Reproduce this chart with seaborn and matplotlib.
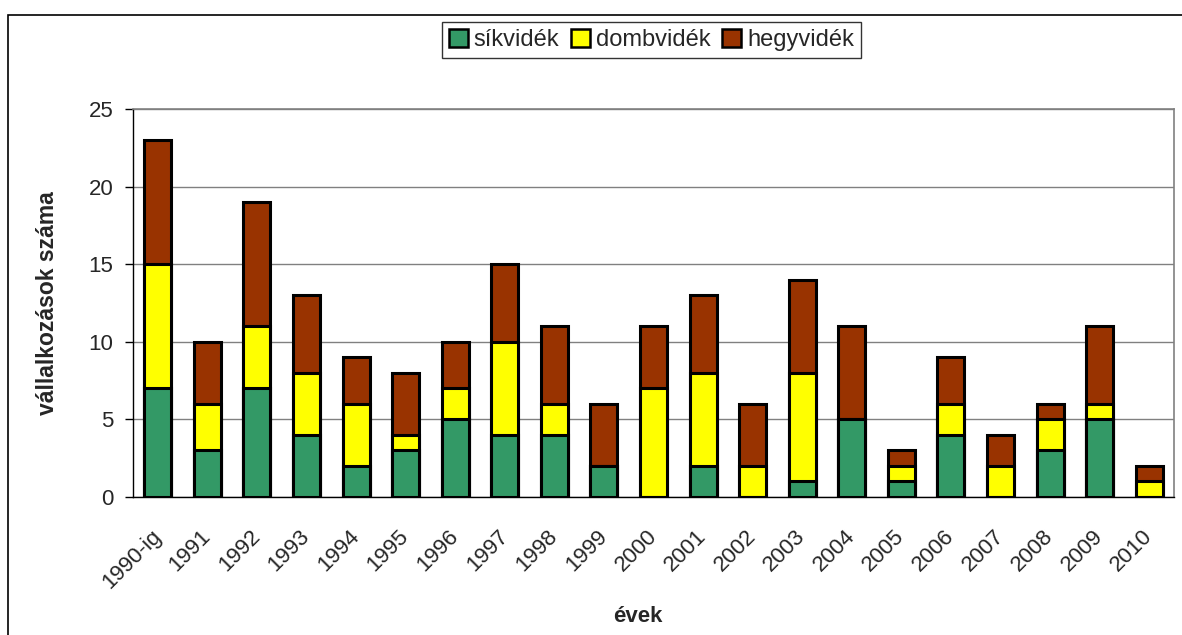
import numpy as np
import pandas as pd
import matplotlib
matplotlib.use("Agg")
import matplotlib.pyplot as plt
import matplotlib.transforms as mtransforms
import seaborn as sns
from matplotlib.patches import Patch, Rectangle

years = ["1990-ig", "1991", "1992", "1993", "1994", "1995", "1996", "1997",
         "1998", "1999", "2000", "2001", "2002", "2003", "2004", "2005",
         "2006", "2007", "2008", "2009", "2010"]
sikvidek = [7, 3, 7, 4, 2, 3, 5, 4, 4, 2, 0, 2, 0, 1, 5, 1, 4, 0, 3, 5, 0]
dombvidek = [8, 3, 4, 4, 4, 1, 2, 6, 2, 0, 7, 6, 2, 7, 0, 1, 2, 2, 2, 1, 1]
hegyvidek = [8, 4, 8, 5, 3, 4, 3, 5, 5, 4, 4, 5, 4, 6, 6, 1, 3, 2, 1, 5, 1]

series_names = ["síkvidék", "dombvidék", "hegyvidék"]
colors = ["#339966", "#FFFF00", "#993300"]

sns.set_style("white")
plt.rcParams["font.family"] = ["Liberation Sans", "DejaVu Sans"]

df = pd.DataFrame({"year": years, "sik": sikvidek, "domb": dombvidek, "hegy": hegyvidek})
df["lvl1"] = df["sik"]
df["lvl2"] = df["sik"] + df["domb"]
df["lvl3"] = df["lvl2"] + df["hegy"]

fig = plt.figure(figsize=(11.82, 6.35), dpi=100)
ax = fig.add_axes([133 / 1182, 1 - 497 / 635, 1041 / 1182, 388 / 635])

# stacked look: draw cumulative totals from the top down
for col, c in zip(["lvl3", "lvl2", "lvl1"], colors[::-1]):
    sns.barplot(data=df, x="year", y=col, color=c, width=0.545, saturation=1,
                edgecolor="black", linewidth=2.2, ax=ax, zorder=3)

ax.set_ylim(0, 25)
ax.set_xlim(-0.5, len(years) - 0.5)
ax.set_yticks(range(0, 26, 5))
ax.yaxis.grid(True, color="#808080", linewidth=1, zorder=0)
ax.set_axisbelow(True)

ax.set_xticks(range(len(years)))
ax.set_xticklabels(years, rotation=45, ha="right", va="center", rotation_mode="anchor")
shift = mtransforms.ScaledTranslation(-8 / 100, 0, fig.dpi_scale_trans)
for lbl in ax.get_xticklabels():
    lbl.set_transform(lbl.get_transform() + shift)
ax.set_xticks(np.arange(-0.5, len(years), 1), minor=True)
ax.tick_params(axis="x", which="major", length=0, labelsize=16, pad=26)
ax.tick_params(axis="x", which="minor", length=6, width=1, color="black", direction="out")
ax.tick_params(axis="y", length=6, width=1, color="black", direction="out",
               labelsize=16, left=True, pad=8)

for s in ["top", "right"]:
    ax.spines[s].set_color("#808080")
    ax.spines[s].set_linewidth(1.2)
for s in ["left", "bottom"]:
    ax.spines[s].set_color("black")
    ax.spines[s].set_linewidth(1)

ax.set_xlabel("évek", fontsize=16, fontweight="bold")
ax.xaxis.set_label_coords(0.485, -0.309)
ax.xaxis.label.set_va("center")
ax.set_ylabel("vállalkozások száma", fontsize=16.5, fontweight="bold")
ax.yaxis.set_label_coords(-0.0817, 0.5)
ax.yaxis.label.set_va("center")

handles = [Patch(facecolor=c, edgecolor="black", linewidth=1.8) for c in colors]
leg = fig.legend(handles, series_names, loc="center", bbox_to_anchor=(0.551, 0.937),
                 ncol=3, fontsize=17, frameon=True, fancybox=False,
                 handlelength=0.8, handleheight=0.8, handletextpad=0.25,
                 columnspacing=0.5, borderpad=0.3)
leg.get_frame().set_edgecolor("black")
leg.get_frame().set_linewidth(1)

fig.patches.append(Rectangle((8 / 1182, -0.05), 1.2, 1.05 - 15 / 635,
                             transform=fig.transFigure, fill=False,
                             edgecolor="black", linewidth=1.2))

fig.savefig("out.png", dpi=100)
